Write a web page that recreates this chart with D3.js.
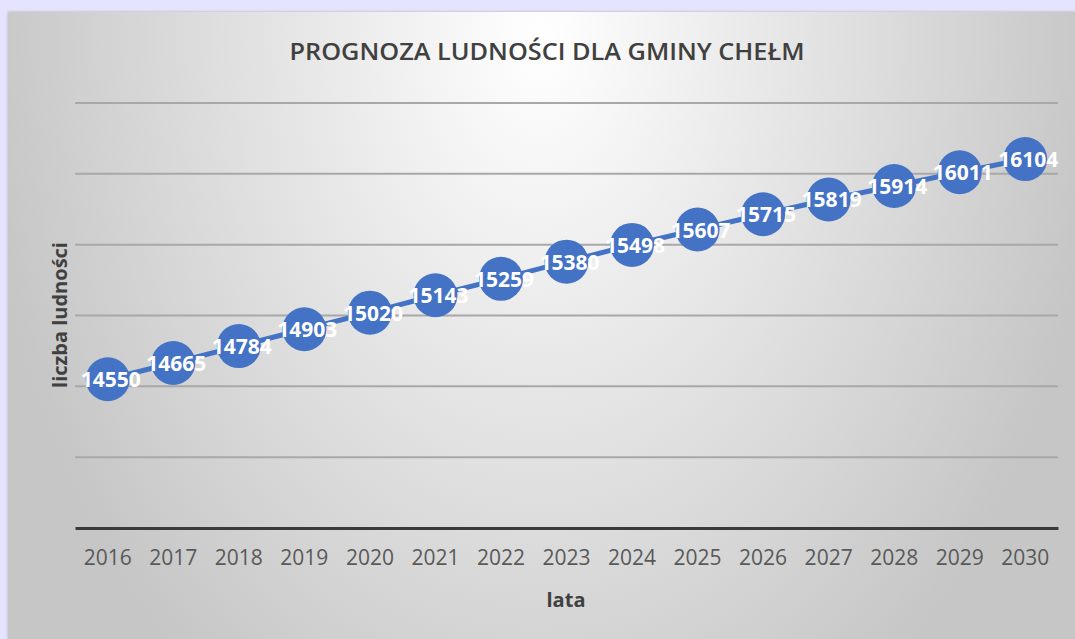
<!DOCTYPE html>
<html>
<head>
<meta charset="utf-8">
<script src="https://cdn.jsdelivr.net/npm/d3@7"></script>
<style>
  body { margin: 0; background: #e4e4fe; }
  svg { display: block; }
</style>
</head>
<body>
<svg id="drawing_region"></svg>
<script>
const years = ['2016','2017','2018','2019','2020','2021','2022','2023','2024','2025','2026','2027','2028','2029','2030'];
const population = [14550, 14665, 14784, 14903, 15020, 15143, 15259, 15380, 15498, 15607, 15715, 15819, 15914, 16011, 16104];
const yTicks = [13500, 14000, 14500, 15000, 15500, 16000, 16500];

const width = 1075, height = 639;
const margin = { left: 75, right: 17, top: 103, bottom: 111 };

const svg = d3.select('#drawing_region')
  .attr('width', width)
  .attr('height', height);

// background panel, light at the top centre, grey to the sides
const defs = svg.append('defs');
const grad = defs.append('radialGradient')
  .attr('id', 'bg')
  .attr('gradientUnits', 'userSpaceOnUse')
  .attr('cx', 540).attr('cy', 40).attr('r', 560)
  .attr('gradientTransform', 'translate(540,40) scale(1,1.43) translate(-540,-40)');
grad.append('stop').attr('offset', '0%').attr('stop-color', '#ffffff');
grad.append('stop').attr('offset', '100%').attr('stop-color', '#c6c6c6');

const shadow = defs.append('filter').attr('id', 'shadow')
  .attr('x', '-2%').attr('y', '-2%').attr('width', '104%').attr('height', '104%');
shadow.append('feDropShadow').attr('dx', 0).attr('dy', 0).attr('stdDeviation', 1.5)
  .attr('flood-color', '#888').attr('flood-opacity', 0.6);

svg.append('rect')
  .attr('x', 8).attr('y', 12)
  .attr('width', width - 8).attr('height', height - 12)
  .attr('fill', 'url(#bg)')
  .attr('filter', 'url(#shadow)');

const x = d3.scaleBand()
  .domain(years)
  .range([margin.left, width - margin.right]);

const y = d3.scaleLinear()
  .domain([13500, 16500])
  .range([height - margin.bottom, margin.top]);

// gridlines
svg.append('g')
  .selectAll('line')
  .data(yTicks.slice(1))
  .join('line')
  .attr('x1', margin.left).attr('x2', width - margin.right)
  .attr('y1', d => y(d)).attr('y2', d => y(d))
  .attr('stroke', '#a8a8a8')
  .attr('stroke-width', 2);

// x axis
const xAxis = svg.append('g')
  .attr('transform', `translate(0,${y(13500)})`)
  .call(d3.axisBottom(x).tickSize(0).tickPadding(22));
xAxis.select('.domain')
  .attr('stroke', '#3a3a3a')
  .attr('stroke-width', 3);
xAxis.selectAll('text')
  .attr('font-family', 'Open Sans, sans-serif')
  .attr('font-size', 21)
  .attr('fill', '#595959');

// title
svg.append('text')
  .attr('x', 547).attr('y', 60)
  .attr('text-anchor', 'middle')
  .attr('font-family', 'Open Sans, sans-serif')
  .attr('font-weight', 600)
  .attr('font-size', 23)
  .attr('fill', '#404040')
  .attr('textLength', 515)
  .attr('lengthAdjust', 'spacingAndGlyphs')
  .text('PROGNOZA LUDNOŚCI DLA GMINY CHEŁM');

// axis titles
svg.append('text')
  .attr('x', 566).attr('y', 607)
  .attr('text-anchor', 'middle')
  .attr('font-family', 'Open Sans, sans-serif')
  .attr('font-weight', 700)
  .attr('font-size', 20)
  .attr('fill', '#404040')
  .text('lata');

svg.append('text')
  .attr('transform', 'translate(67,315) rotate(-90)')
  .attr('text-anchor', 'middle')
  .attr('font-family', 'Open Sans, sans-serif')
  .attr('font-weight', 700)
  .attr('font-size', 20)
  .attr('fill', '#404040')
  .text('liczba ludności');

// line
const cx = d => x(d) + x.bandwidth() / 2;
const line = d3.line()
  .x((d, i) => cx(years[i]))
  .y(d => y(d));

svg.append('path')
  .datum(population)
  .attr('d', line)
  .attr('fill', 'none')
  .attr('stroke', '#4472c4')
  .attr('stroke-width', 5);

svg.append('g')
  .selectAll('circle')
  .data(population)
  .join('circle')
  .attr('cx', (d, i) => cx(years[i]))
  .attr('cy', d => y(d))
  .attr('r', 22)
  .attr('fill', '#4472c4');

svg.append('g')
  .selectAll('text')
  .data(population)
  .join('text')
  .attr('x', (d, i) => cx(years[i]) + 3)
  .attr('y', d => y(d) + 8)
  .attr('text-anchor', 'middle')
  .attr('font-family', 'Open Sans, sans-serif')
  .attr('font-weight', 700)
  .attr('font-size', 21)
  .attr('fill', '#ffffff')
  .text(d => d);
</script>
</body>
</html>
